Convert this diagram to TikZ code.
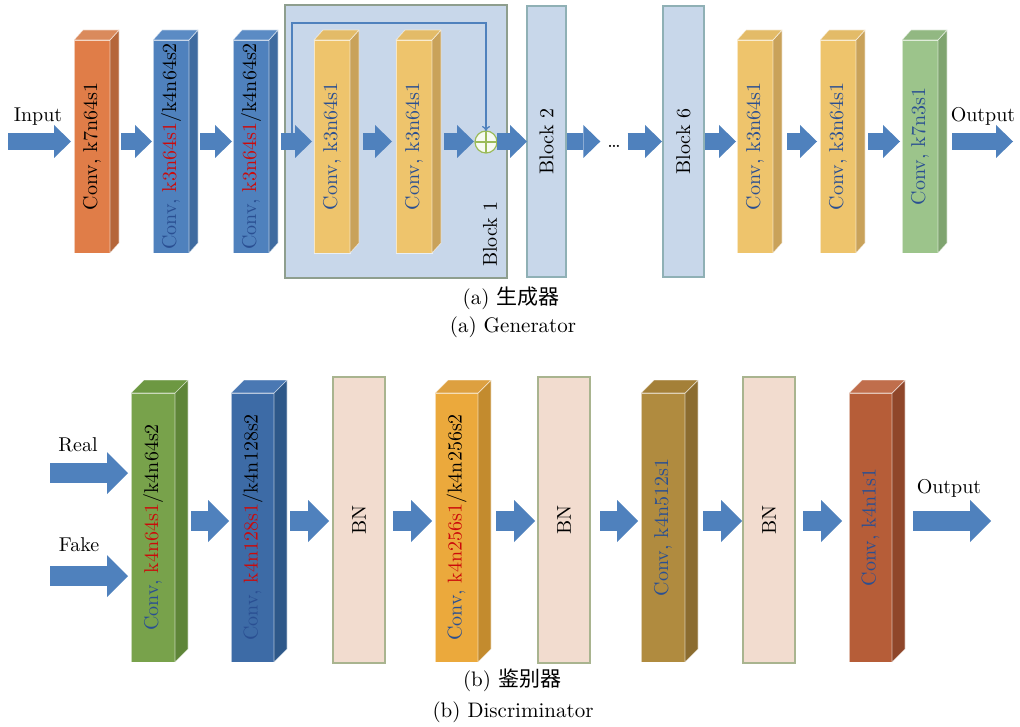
\documentclass[tikz,border=0pt]{standalone}
\usepackage{fontspec}
\newfontfamily\cjk{Noto Sans CJK SC}
\newfontfamily\lmten{lmroman10-regular.otf}
\usetikzlibrary{arrows.meta,calc}
\definecolor{arrc}{HTML}{4F81BD}
\definecolor{txtb}{HTML}{2A4F92}
\definecolor{txtr}{HTML}{CC0A0A}
% generator colours
\definecolor{oF}{HTML}{E07D48}\definecolor{oS}{HTML}{B5663A}\definecolor{oT}{HTML}{DA8A5C}
\definecolor{bF}{HTML}{4F81BD}\definecolor{bS}{HTML}{3F6BA0}\definecolor{bT}{HTML}{5B8BC4}
\definecolor{yF}{HTML}{EEC46C}\definecolor{yS}{HTML}{C9A25A}\definecolor{yT}{HTML}{E3BB68}
\definecolor{gF}{HTML}{9CC48B}\definecolor{gS}{HTML}{7FA46F}\definecolor{gT}{HTML}{92B882}
\definecolor{blkF}{HTML}{C8D7EA}\definecolor{contD}{HTML}{8E9E8E}\definecolor{blkD}{HTML}{8FB0B5}
\definecolor{sumD}{HTML}{9BBB59}
% discriminator colours
\definecolor{dgF}{HTML}{78A24B}\definecolor{dgS}{HTML}{5E8538}\definecolor{dgT}{HTML}{6D9842}
\definecolor{dbF}{HTML}{3D6BA6}\definecolor{dbS}{HTML}{2E5889}\definecolor{dbT}{HTML}{4A78B3}
\definecolor{dyF}{HTML}{EBA93C}\definecolor{dyS}{HTML}{C38B2E}\definecolor{dyT}{HTML}{DDA040}
\definecolor{doF}{HTML}{B08B3F}\definecolor{doS}{HTML}{8B6C2F}\definecolor{doT}{HTML}{A48038}
\definecolor{drF}{HTML}{B65D38}\definecolor{drS}{HTML}{8F462A}\definecolor{drT}{HTML}{C06E4C}
\definecolor{bnF}{HTML}{F2DCCF}\definecolor{bnD}{HTML}{A9B48F}
\newcommand\mysize{\lmten\fontsize{20}{24}\selectfont}
\newcommand\capsize{\lmten\fontsize{21}{25}\selectfont}
% 3D box: name, x, y, w, h, dx, dy, colour prefix, text
\newcommand\cbox[9]{%
  \node[face, fill=#8F, minimum width=#4, minimum height=#5, anchor=north west] (#1) at (#2,#3) {};
  \filldraw[fill=#8S, draw=white, draw opacity=0.6, line width=0.7pt, line join=round]
    (#1.north east) -- ++(#6,-#7) -- ++(0,#5) -- (#1.south east) -- cycle;
  \filldraw[fill=#8T, draw=white, draw opacity=0.6, line width=0.7pt, line join=round]
    (#1.north west) -- ++(#6,-#7) -- ++(#4,0) -- (#1.north east) -- cycle;
  \node[rotate=90, font=\mysize] at (#1.center) {#9};}
\begin{document}
\begin{tikzpicture}[x=1pt,y=-1pt,
  every node/.style={inner sep=0pt, outer sep=0pt},
  face/.style={draw=white, draw opacity=0.6, line width=0.7pt},
  garr/.style={draw=arrc, line width=17pt, -{Triangle[length=17pt,width=33pt,line width=0pt]}},
  darr/.style={draw=arrc, line width=20pt, -{Triangle[length=21pt,width=42pt,line width=0pt]}},
  blk/.style={fill=blkF, draw=blkD, line width=1.2pt},
  cont/.style={fill=blkF, draw=contD, line width=1.5pt},
  bn/.style={fill=bnF, draw=bnD, line width=1.5pt},
  lab/.style={font=\mysize, anchor=base},
  captxt/.style={font=\capsize, anchor=base}]
\fill[white] (0,0) rectangle (1020,727);
\useasboundingbox (0,0) rectangle (1020,727);

% ================= Generator =================
\node[cont, minimum width=222, minimum height=273, anchor=north west] (blk1) at (285,5) {};
\node[rotate=90, font=\mysize] at (490,234) {Block 1};

\cbox{o1}{74}{40}{36}{213}{9}{10}{o}{Conv, k7n64s1}
\cbox{b1}{153}{40}{36}{213}{9}{10}{b}{{\color{txtb}Conv,} {\color{txtr}k3n64s1}/k4n64s2}
\cbox{b2}{233}{40}{36}{213}{9}{10}{b}{{\color{txtb}Conv,} {\color{txtr}k3n64s1}/k4n64s2}
\cbox{y1}{314}{40}{36}{213}{9}{10}{y}{\color{txtb}Conv, k3n64s1}
\cbox{y2}{396}{40}{36}{213}{9}{10}{y}{\color{txtb}Conv, k3n64s1}
\cbox{y3}{737}{40}{36}{213}{9}{10}{y}{\color{txtb}Conv, k3n64s1}
\cbox{y4}{820}{40}{36}{213}{9}{10}{y}{\color{txtb}Conv, k3n64s1}
\cbox{g1}{902}{40}{36}{213}{9}{10}{g}{\color{txtb}Conv, k7n3s1}

\node[blk, minimum width=39, minimum height=271, anchor=north west] (blk2) at (527,6) {};
\node[rotate=90, font=\mysize] at (blk2.center) {Block 2};
\node[blk, minimum width=41, minimum height=271, anchor=north west] (blk6) at (663,6) {};
\node[rotate=90, font=\mysize] at (blk6.center) {Block 6};
\node[font=\mysize] (dots) at (614,146) {\dots};

\node[circle, minimum size=22pt, fill=white!92!sumD, draw=sumD, line width=1.2pt] (sum) at (486,142) {};
\draw[sumD, line width=1.2pt] (sum.north) -- (sum.south) (sum.west) -- (sum.east);

\coordinate (ay) at (0,141.5);
\coordinate (inA) at (8,141.5);
\coordinate (outA) at (1013,141.5);
\node[lab] (inT) at (38,122) {Input};
\node[lab] (outT) at (983,122) {Output};

\draw[garr, shorten >=3pt] (inA) -- (o1.west |- ay);
\draw[garr, shorten <=11pt, shorten >=1pt] (o1.east |- ay) -- (b1.west |- ay);
\draw[garr, shorten <=11pt, shorten >=1pt] (b1.east |- ay) -- (b2.west |- ay);
\draw[garr, shorten <=12pt, shorten >=2pt] (b2.east |- ay) -- (y1.west |- ay);
\draw[garr, shorten <=13pt, shorten >=4pt] (y1.east |- ay) -- (y2.west |- ay);
\draw[garr, shorten <=12pt, shorten >=1pt] (y2.east |- ay) -- (sum.west |- ay);
\draw[garr, shorten >=0pt] (sum.east |- ay) -- (blk2.west |- ay);
\draw[garr, shorten <=1pt, shorten >=7pt] (blk2.east |- ay) -- (dots.west |- ay);
\draw[garr, shorten <=7pt, shorten >=1pt] (dots.east |- ay) -- (blk6.west |- ay);
\draw[garr, shorten <=1pt, shorten >=1pt] (blk6.east |- ay) -- (y3.west |- ay);
\draw[garr, shorten <=14pt, shorten >=3pt] (y3.east |- ay) -- (y4.west |- ay);
\draw[garr, shorten <=12pt, shorten >=2pt] (y4.east |- ay) -- (g1.west |- ay);
\draw[garr, shorten <=14pt] (g1.east |- ay) -- (outA);

\coordinate (skA) at (292,133);
\coordinate (skB) at (292,23);
\draw[arrc, line width=1.3pt, -{To[length=5pt,width=8pt]}] (skA) -- (skB) -| (sum.north);

\node[captxt] (capa1) at (511,305) {(a) {\cjk 生成器}};
\node[captxt] (capa2) at (513,333) {(a) Generator};

% ================= Discriminator =================
\cbox{dg}{131}{393}{44}{269}{13}{13}{dg}{{\color{txtb}Conv,} {\color{txtr}k4n64s1}/k4n64s2}
\cbox{db}{231}{393}{43}{269}{13}{13}{db}{{\color{txtb}Conv,} {\color{txtr}k4n128s1}/k4n128s2}
\cbox{dy}{435}{393}{43}{269}{13}{13}{dy}{{\color{txtb}Conv,} {\color{txtr}k4n256s1}/k4n256s2}
\cbox{do}{641}{393}{44}{269}{13}{13}{do}{\color{txtb}Conv, k4n512s1}
\cbox{dr}{849}{393}{43}{269}{13}{13}{dr}{\color{txtb}Conv, k4n1s1}

\node[bn, minimum width=52, minimum height=286, anchor=north west] (bn1) at (333,377) {};
\node[rotate=90, font=\mysize] at (bn1.center) {BN};
\node[bn, minimum width=52, minimum height=286, anchor=north west] (bn2) at (538,377) {};
\node[rotate=90, font=\mysize] at (bn2.center) {BN};
\node[bn, minimum width=52, minimum height=286, anchor=north west] (bn3) at (743,377) {};
\node[rotate=90, font=\mysize] at (bn3.center) {BN};

\coordinate (by) at (0,521);
\coordinate (realS) at (50,473);
\coordinate (fakeS) at (50,576);
\coordinate (doutA) at (991,521);
\node[lab] (realT) at (78,451) {Real};
\node[lab] (fakeT) at (79,551) {Fake};
\node[lab] (doutT) at (949,493) {Output};

\draw[darr, shorten >=3pt] (realS) -- (dg.west |- realS);
\draw[darr, shorten >=3pt] (fakeS) -- (dg.west |- fakeS);
\draw[darr, shorten <=16pt, shorten >=2pt] (dg.east |- by) -- (db.west |- by);
\draw[darr, shorten <=16pt, shorten >=4pt] (db.east |- by) -- (bn1.west |- by);
\draw[darr, shorten <=8pt, shorten >=3pt] (bn1.east |- by) -- (dy.west |- by);
\draw[darr, shorten <=18pt, shorten >=3pt] (dy.east |- by) -- (bn2.west |- by);
\draw[darr, shorten <=10pt, shorten >=3pt] (bn2.east |- by) -- (do.west |- by);
\draw[darr, shorten <=18pt, shorten >=1pt] (do.east |- by) -- (bn3.west |- by);
\draw[darr, shorten <=8pt, shorten >=7pt] (bn3.east |- by) -- (dr.west |- by);
\draw[darr, shorten <=21pt] (dr.east |- by) -- (doutA);

\node[captxt] (capb1) at (512,686) {(b) {\cjk 鉴别器}};
\node[captxt] (capb2) at (513,717) {(b) Discriminator};
\end{tikzpicture}
\end{document}
